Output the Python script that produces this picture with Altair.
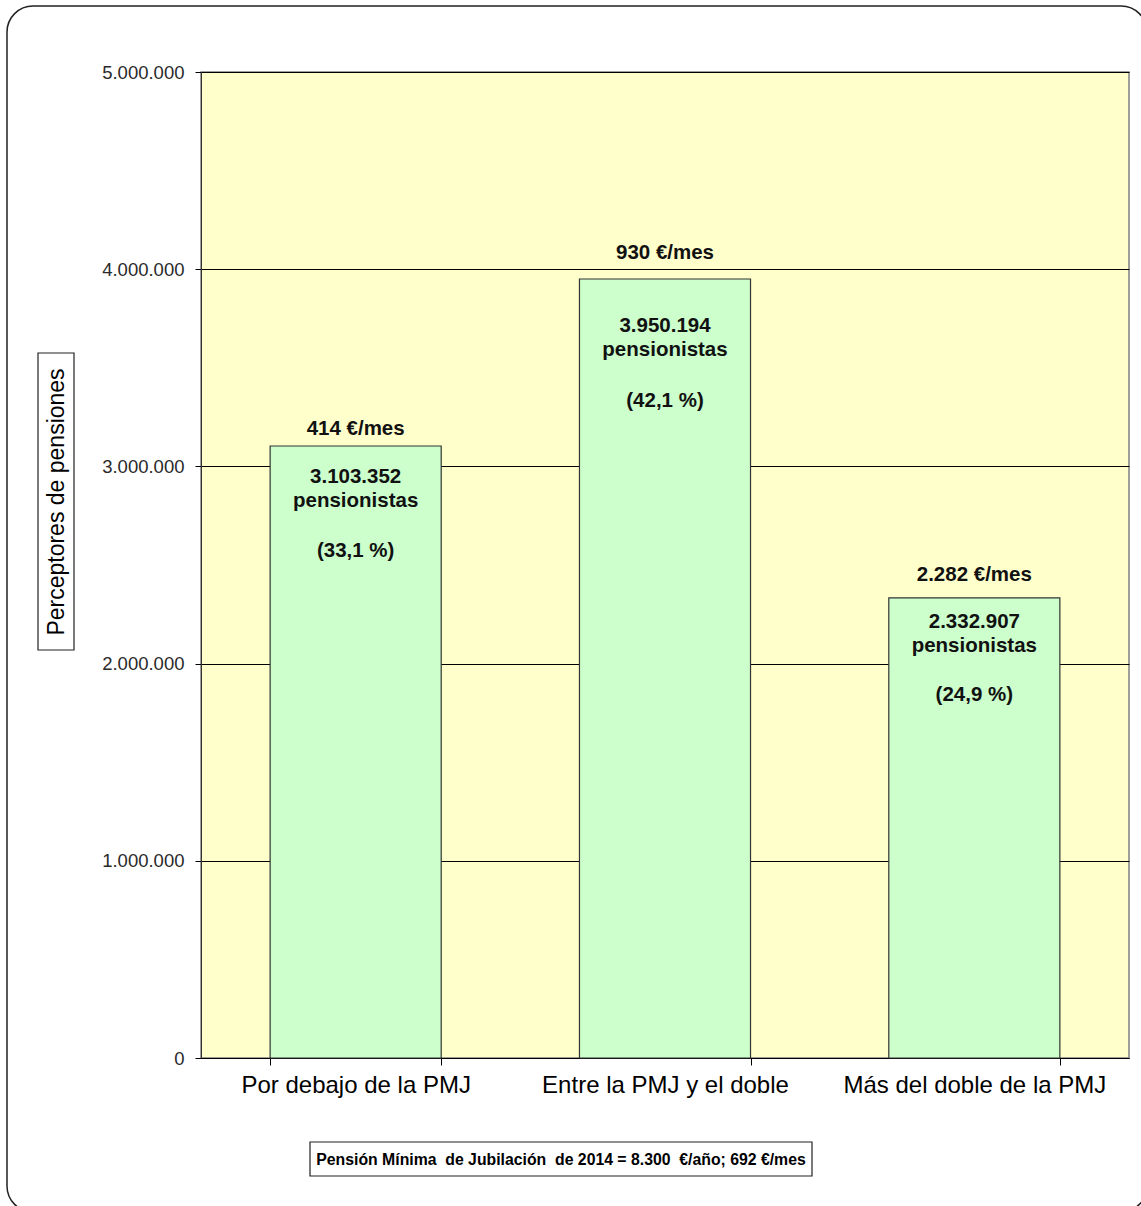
import altair as alt
import pandas as pd

# Pensioners by pension bracket relative to the minimum retirement pension (PMJ), 2014
categories = ["Por debajo de la PMJ", "Entre la PMJ y el doble", "Más del doble de la PMJ"]
pensioners = [3103352, 3950194, 2332907]
monthly_eur = [414, 930, 2282]
share_pct = [33.1, 42.1, 24.9]
y_ticks = [0, 1000000, 2000000, 3000000, 4000000, 5000000]

footnote = "Pensión Mínima\u00a0 de Jubilación\u00a0 de 2014 = 8.300\u00a0 €/año; 692 €/mes"
y_title = "Perceptores de pensiones"

df = pd.DataFrame({
    "cat": categories,
    "n": pensioners,
    "eur": monthly_eur,
    "pct": share_pct,
})

W, H = 928, 986
FONT = "Liberation Sans"

# vertical offsets (px from the bar top) of each bar's label block:
# monthly amount, head-count, "pensionistas", percentage
label_dy = {
    categories[0]: (-17, 31, 55, 105),
    categories[1]: (-26, 47, 71, 122),
    categories[2]: (-23, 24, 48, 97),
}

x = alt.X(
    "cat:N", sort=categories, title=None,
    scale=alt.Scale(paddingInner=0.447, paddingOuter=0.2235),
    axis=alt.Axis(
        tickBand="extent", tickSize=7, tickColor="#000", domainColor="#000",
        labelFontSize=24, labelColor="#000", labelPadding=8, labelAngle=0,
        labelFont=FONT, labelLimit=0, grid=False,
    ),
)
y = alt.Y(
    "n:Q", title=None,
    scale=alt.Scale(domain=[0, 5000000], nice=False),
    axis=alt.Axis(
        values=y_ticks, format=",d", tickSize=6, tickColor="#000",
        domainColor="#333", labelFontSize=18.5, labelColor="#2a2a2a",
        labelPadding=11, labelFont=FONT,
        grid=True, gridColor="#000", gridWidth=1,
    ),
)

base = alt.Chart(df)

bars = base.mark_bar(fill="#CCFFCC", stroke="#333", strokeWidth=1.2).encode(x=x, y=y)

label_style = dict(font=FONT, fontSize=20.5, fontWeight="bold", color="#111",
                   align="center", baseline="middle")

labels = []
for cat, (d_eur, d_n, d_word, d_pct) in label_dy.items():
    sub = base.transform_filter(alt.datum.cat == cat)
    labels += [
        sub.transform_calculate(t="format(datum.eur, ',d') + ' €/mes'")
           .mark_text(dy=d_eur, **label_style).encode(x=x, y=y, text="t:N"),
        sub.mark_text(dy=d_n, **label_style)
           .encode(x=x, y=y, text=alt.Text("n:Q", format=",d")),
        sub.transform_calculate(t="'pensionistas'")
           .mark_text(dy=d_word, **label_style).encode(x=x, y=y, text="t:N"),
        sub.transform_calculate(t="'(' + format(datum.pct, '.1f') + ' %)'")
           .mark_text(dy=d_pct, **label_style).encode(x=x, y=y, text="t:N"),
    ]

one = alt.Chart(pd.DataFrame({"k": [0]}))

# outer rounded frame around the whole figure
frame = one.mark_rect(fill=None, stroke="#222", strokeWidth=1.5, cornerRadius=26, clip=False).encode(
    x=alt.value(-194), x2=alt.value(946), y=alt.value(-66), y2=alt.value(1140))

# boxed vertical axis title
ybox = one.mark_rect(fill="white", stroke="#222", strokeWidth=1.2).encode(
    x=alt.value(-163), x2=alt.value(-127), y=alt.value(281), y2=alt.value(578))
ytext = one.mark_text(font=FONT, fontSize=23, angle=270, align="center",
                      baseline="middle", color="#000").encode(
    x=alt.value(-144), y=alt.value(430), text=alt.value(y_title))

# boxed footnote under the axis
fbox = one.mark_rect(fill="white", stroke="#222", strokeWidth=1.2).encode(
    x=alt.value(109), x2=alt.value(611), y=alt.value(1070), y2=alt.value(1104))
ftext = one.mark_text(font=FONT, fontSize=15.8, fontWeight="bold",
                      align="center", baseline="middle", color="#000").encode(
    x=alt.value(360), y=alt.value(1088), text=alt.value(footnote))

chart = alt.layer(
    bars, *labels, frame, ybox, ytext, fbox, ftext
).properties(
    width=W, height=H,
    autosize=alt.AutoSizeParams(type="none"),
    padding={"left": 201, "top": 72, "right": 12, "bottom": 148},
    background="white",
).configure(
    locale={"number": {"decimal": ",", "thousands": ".", "grouping": [3], "currency": ["", " €"]}},
    view=alt.ViewConfig(fill="#FFFFCC", stroke="#808080", strokeWidth=1.5),
)

chart.save("out.html", embed_options={"renderer": "svg", "actions": False})
